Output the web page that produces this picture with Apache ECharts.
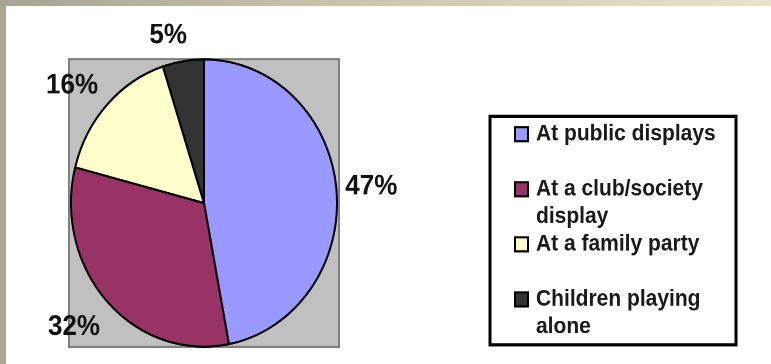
<!DOCTYPE html>
<html>
<head>
<meta charset="utf-8">
<script src="https://cdn.jsdelivr.net/npm/echarts@6/dist/echarts.min.js"></script>
<style>
  html, body { margin: 0; padding: 0; width: 771px; height: 364px; overflow: hidden; }
  body { position: relative; background: #a9a895; }
  #topband { position: absolute; left: 0; top: 0; width: 771px; height: 6px;
             background: linear-gradient(to right, #a6a592 0%, #c9c4ac 45%, #e9e3cc 100%); }
  #sheet { position: absolute; left: 6px; top: 6px; right: 0; bottom: 0; background: #fff; }
  /* the whole drawing is slightly taller than wide, so it is stretched vertically */
  #chart { position: absolute; left: 0; top: 0; width: 771px; height: 337px;
           transform: scaleY(1.08); transform-origin: 0 0; }
</style>
</head>
<body>
<div id="topband"></div>
<div id="sheet"></div>
<div id="chart"></div>
<script>
// Where children see fireworks (share of respondents, %)
const categories = ['At public displays', 'At a club/society display', 'At a family party', 'Children playing alone'];
const shares = [47, 32, 16, 5];
const colors = ['#9999ff', '#993366', '#ffffcc', '#333333'];
// legend text, broken onto lines as in the key box
const legendLines = [['At public displays'], ['At a club/society', 'display'], ['At a family party'], ['Children playing', 'alone']];
// per-slice label line lengths used to place the percentage labels
const labelLen = [27, 35, 26, 24];
const labelLen2 = [-23, -23.5, -15, -12.5];

const chart = echarts.init(document.getElementById('chart'), null, { renderer: 'canvas', devicePixelRatio: 2 });

const rich = {
  t: { fontFamily: 'Liberation Sans, Arial, sans-serif', fontWeight: 'bold', fontSize: 21, color: '#1a1a1a',
       lineHeight: 25.5, width: 190, verticalAlign: 'middle' },
  gap: { width: 9, lineHeight: 25.5 },
  ind: { width: 20, lineHeight: 25.5 }
};
colors.forEach((c, i) => {
  rich['m' + i] = { width: 11, height: 11, backgroundColor: c, borderColor: '#000', borderWidth: 2,
                    lineHeight: 25.5, verticalAlign: 'middle' };
});

chart.setOption({
  animation: false,
  backgroundColor: 'transparent',
  graphic: [{
    type: 'rect', z: -1, silent: true,
    shape: { x: 69, y: 54.6, width: 270, height: 266.7 },
    style: { fill: '#c0c0c0', stroke: '#808080', lineWidth: 2 }
  }],
  legend: {
    orient: 'vertical',
    left: 490, top: 107.7,
    padding: [6, 10, 6, 20],
    itemGap: 4.5, itemWidth: 0, itemHeight: 0,
    itemStyle: { opacity: 0 },
    backgroundColor: '#ffffff', borderColor: '#000000', borderWidth: 3,
    selectedMode: false,
    data: categories,
    formatter: function (name) {
      const i = categories.indexOf(name);
      const lines = legendLines[i];
      const second = lines.length > 1 ? '{ind|}{t|' + lines[1] + '}' : '{t| }';
      return '{m' + i + '|}{gap|}{t|' + lines[0] + '}\n' + second;
    },
    textStyle: { rich: rich }
  },
  series: [{
    type: 'pie',
    center: [204, 188],
    radius: 133,
    startAngle: 90,
    clockwise: true,
    avoidLabelOverlap: false,
    emphasis: { disabled: true },
    itemStyle: { borderColor: '#000', borderWidth: 2 },
    label: {
      show: true, position: 'outside', formatter: '{c}%',
      fontFamily: 'Liberation Sans, Arial, sans-serif', fontWeight: 'bold', fontSize: 26, color: '#111',
      distanceToLabelLine: 5
    },
    data: categories.map((name, i) => ({
      name: name,
      value: shares[i],
      itemStyle: { color: colors[i] },
      labelLine: { show: false, length: labelLen[i], length2: labelLen2[i] }
    }))
  }]
});
</script>
</body>
</html>
